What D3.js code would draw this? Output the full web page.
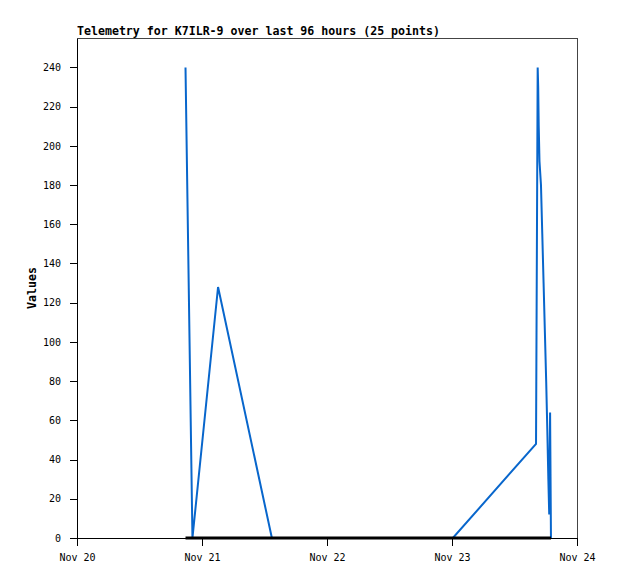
<!DOCTYPE html>
<html>
<head>
<meta charset="utf-8">
<script src="https://cdn.jsdelivr.net/npm/d3@7"></script>
<style>
  html, body { margin: 0; padding: 0; background: #fff; }
  svg { display: block; }
</style>
</head>
<body>
<svg id="chart" width="618" height="579"></svg>
<script>
// ---- data ----
const title = "Telemetry for K7ILR-9 over last 96 hours (25 points)";
const yLabel = "Values";
const times = [
  "2024-11-20T20:50:00Z", "2024-11-20T21:30:00Z", "2024-11-20T22:10:00Z",
  "2024-11-21T03:05:00Z", "2024-11-21T13:25:00Z", "2024-11-21T20:00:00Z",
  "2024-11-22T04:00:00Z", "2024-11-22T12:00:00Z", "2024-11-22T20:00:00Z",
  "2024-11-23T00:10:00Z", "2024-11-23T16:08:00Z", "2024-11-23T16:27:00Z",
  "2024-11-23T16:33:00Z", "2024-11-23T16:39:00Z", "2024-11-23T16:48:00Z",
  "2024-11-23T17:05:00Z", "2024-11-23T17:20:00Z", "2024-11-23T17:35:00Z",
  "2024-11-23T17:50:00Z", "2024-11-23T18:05:00Z", "2024-11-23T18:18:00Z",
  "2024-11-23T18:30:00Z", "2024-11-23T18:40:00Z", "2024-11-23T18:50:00Z",
  "2024-11-23T19:00:00Z"
];
const values = [
  240, 120, 0,
  128, 0, 0,
  0, 0, 0,
  0, 48, 240,
  230, 210, 192,
  180, 155, 130,
  105, 80, 55,
  30, 12, 64,
  0
];
const baseValues = [
  0, 0, 0, 0, 0, 0, 0, 0, 0, 0, 0, 0, 0,
  0, 0, 0, 0, 0, 0, 0, 0, 0, 0, 0, 0
];
const xTickDates = ["2024-11-20", "2024-11-21", "2024-11-22", "2024-11-23", "2024-11-24"];
const yTicks = [0, 20, 40, 60, 80, 100, 120, 140, 160, 180, 200, 220, 240];
const yDomain = [0, 255];

// ---- layout ----
const mLeft = 77, mRight = 577, mTop = 38, mBottom = 538;
const svg = d3.select("#chart");
const parse = d3.utcParse("%Y-%m-%dT%H:%M:%SZ");
const parseDay = d3.utcParse("%Y-%m-%d");
const T = times.map(parse);
const xTicks = xTickDates.map(parseDay);

const x = d3.scaleUtc().domain([xTicks[0], xTicks[xTicks.length - 1]]).range([mLeft, mRight]);
const y = d3.scaleLinear().domain(yDomain).range([mBottom, mTop]);

const mono = "'DejaVu Sans Mono', 'Liberation Mono', monospace";

// frame: top and right borders
svg.append("path")
  .attr("d", `M${mLeft},${mTop + 0.5}H${mRight + 0.5}V${mBottom}`)
  .attr("fill", "none").attr("stroke", "#444").attr("stroke-width", 1)
  .attr("shape-rendering", "crispEdges");

// title
svg.append("text")
  .attr("x", mLeft).attr("y", 35)
  .attr("font-family", mono).attr("font-weight", "bold").attr("font-size", 11.6)
  .attr("fill", "#000")
  .text(title);

// y label
svg.append("text")
  .attr("transform", `translate(36,${(mTop + mBottom) / 2}) rotate(-90)`)
  .attr("text-anchor", "middle")
  .attr("font-family", mono).attr("font-weight", "bold").attr("font-size", 11.6)
  .attr("fill", "#000")
  .text(yLabel);

// series
const line = d3.line().x((d, i) => x(T[i])).y(d => y(d));
svg.append("path")
  .datum(values)
  .attr("d", line)
  .attr("fill", "none").attr("stroke", "#0866cc").attr("stroke-width", 2)
  .attr("stroke-linejoin", "miter");

svg.append("path")
  .datum(baseValues)
  .attr("d", line)
  .attr("fill", "none").attr("stroke", "#000").attr("stroke-width", 3);

// axes
const yAxis = svg.append("g")
  .attr("transform", `translate(${mLeft},0)`)
  .call(d3.axisLeft(y).tickValues(yTicks).tickSize(7).tickPadding(9).tickSizeOuter(0));
const xAxis = svg.append("g")
  .attr("transform", `translate(0,${mBottom})`)
  .call(d3.axisBottom(x).tickValues(xTicks).tickSize(8).tickPadding(8).tickSizeOuter(0)
    .tickFormat(d3.utcFormat("%b %d")));

[yAxis, xAxis].forEach(g => {
  g.selectAll("path, line").attr("stroke", "#000").attr("shape-rendering", "crispEdges");
  g.selectAll("text").attr("font-family", mono).attr("font-size", 10).attr("fill", "#000");
});
</script>
</body>
</html>
